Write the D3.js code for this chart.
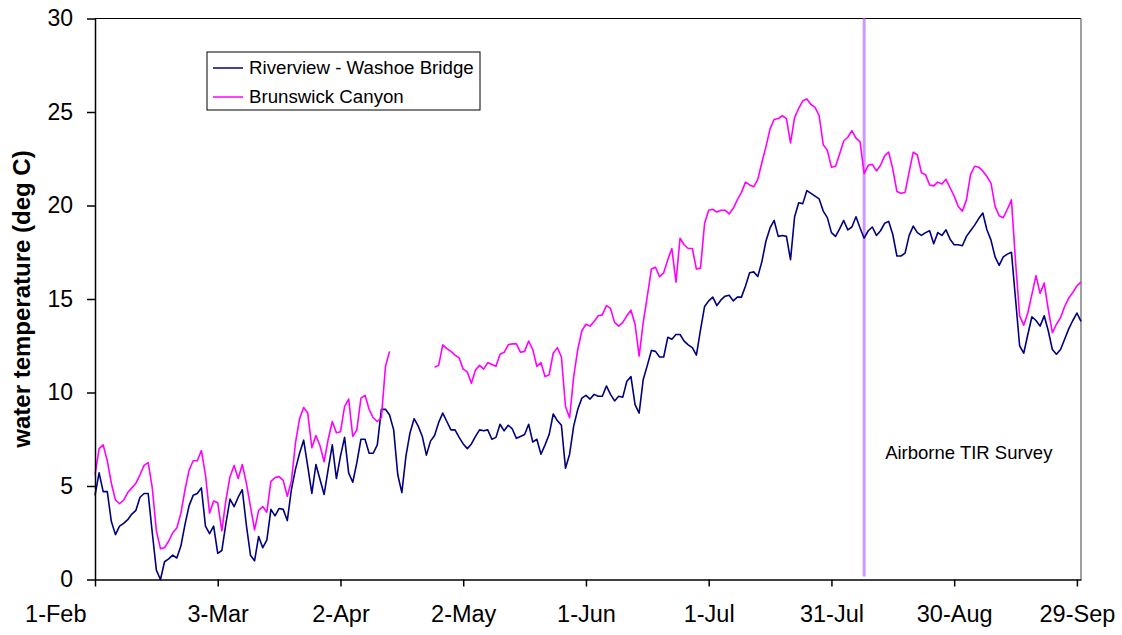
<!DOCTYPE html>
<html>
<head>
<meta charset="utf-8">
<script src="https://cdn.jsdelivr.net/npm/d3@7"></script>
<style>
  html, body { margin: 0; padding: 0; background: #fff; }
  svg { display: block; font-family: "Liberation Sans", Arial, sans-serif; }
</style>
</head>
<body>
<script>
// daily water temperature, 1-Feb .. 30-Sep
const startDay = '1-Feb-2001';
const riverview = [
  4.5, 5.7, 4.7, 4.7, 3.1, 2.4, 2.85, 3.0, 3.2, 3.5,
  3.7, 4.4, 4.6, 4.6, 2.5, 0.5, 0.0, 0.95, 1.1, 1.3,
  1.15, 1.8, 2.95, 3.95, 4.5, 4.6, 4.9, 2.85, 2.45, 2.85,
  1.4, 1.55, 3.0, 4.3, 3.9, 4.4, 4.8, 2.9, 1.3, 1.0,
  2.3, 1.7, 2.1, 3.75, 3.4, 3.8, 3.75, 3.15, 4.8, 5.9,
  6.75, 7.45, 6.05, 4.6, 6.15, 5.35, 4.55, 5.9, 7.2, 5.4,
  6.6, 7.6, 5.7, 5.2, 6.25, 7.5, 7.5, 6.75, 6.75, 7.2,
  9.1, 9.1, 8.8, 8.0, 5.6, 4.65, 6.6, 7.85, 8.6, 8.2,
  7.65, 6.65, 7.4, 7.7, 8.4, 8.9, 8.45, 8.0, 8.0, 7.6,
  7.25, 7.0, 7.25, 7.65, 8.0, 7.95, 8.0, 7.5, 7.6, 8.3,
  7.95, 8.25, 8.05, 7.55, 7.65, 7.75, 8.3, 7.35, 7.5, 6.7,
  7.2, 7.75, 8.85, 8.5, 8.25, 5.95, 6.7, 8.2, 9.1, 9.7,
  9.85, 9.65, 9.9, 9.8, 9.8, 10.35, 9.9, 9.55, 9.8, 9.75,
  10.6, 10.85, 9.35, 8.9, 10.7, 11.45, 12.25, 12.2, 11.9, 11.9,
  12.95, 12.85, 13.1, 13.1, 12.75, 12.55, 12.4, 12.0, 13.35, 14.6,
  14.9, 15.1, 14.65, 14.95, 15.15, 15.2, 14.9, 15.1, 15.1, 15.7,
  16.4, 16.45, 16.2, 17.0, 18.1, 18.8, 19.2, 18.35, 18.4, 18.35,
  17.1, 19.4, 20.15, 20.1, 20.8, 20.65, 20.5, 20.35, 19.7, 19.35,
  18.55, 18.35, 18.75, 19.2, 18.7, 18.85, 19.4, 18.8, 18.25, 18.65,
  18.85, 18.4, 18.65, 19.05, 19.15, 18.45, 17.3, 17.3, 17.45, 18.4,
  18.9, 18.55, 18.4, 18.55, 18.65, 17.95, 18.55, 18.4, 18.7, 18.2,
  17.9, 17.9, 17.85, 18.35, 18.65, 18.95, 19.3, 19.6, 18.7, 18.15,
  17.25, 16.8, 17.25, 17.4, 17.5, 15.0, 12.5, 12.1, 13.1, 14.05,
  13.85, 13.55, 14.1, 13.3, 12.3, 12.05, 12.3, 12.85, 13.4, 13.85,
  14.25, 13.8
];
const brunswick = [
  5.6, 7.0, 7.2, 6.35, 5.15, 4.25, 4.05, 4.25, 4.65, 4.9,
  5.15, 5.6, 6.1, 6.25, 4.9, 2.6, 1.65, 1.7, 2.05, 2.5,
  2.75, 3.55, 4.8, 5.85, 6.35, 6.35, 6.9, 5.6, 3.55, 4.2,
  4.1, 2.6, 4.25, 5.5, 6.1, 5.4, 6.15, 5.15, 3.9, 2.65,
  3.7, 3.9, 3.6, 5.25, 5.45, 5.5, 5.3, 4.45, 5.25, 7.3,
  8.6, 9.2, 8.9, 7.05, 7.7, 7.15, 6.3, 7.5, 8.45, 7.85,
  7.9, 9.25, 9.65, 7.65, 8.0, 9.7, 9.85, 9.1, 8.65, 8.45,
  8.65, 11.4, 12.2, null, null, null, null, null, null, null,
  null, null, null, 11.35, 11.45, 12.55, 12.35, 12.2, 12.0, 11.85,
  11.25, 11.1, 10.5, 11.2, 11.45, 11.25, 11.6, 11.5, 11.4, 12.05,
  12.15, 12.55, 12.6, 12.6, 12.15, 12.2, 12.75, 12.3, 11.4, 11.6,
  10.85, 10.95, 12.1, 12.4, 11.9, 9.25, 8.65, 10.85, 12.3, 13.3,
  13.65, 13.55, 13.8, 14.1, 14.15, 14.65, 14.5, 13.75, 13.55, 13.75,
  14.1, 14.4, 13.65, 11.95, 13.75, 15.15, 16.6, 16.7, 16.2, 16.4,
  17.1, 17.7, 15.9, 18.25, 17.9, 17.7, 17.7, 16.6, 16.65, 19.05,
  19.75, 19.8, 19.65, 19.75, 19.75, 19.55, 19.85, 20.3, 20.7, 21.25,
  21.1, 21.0, 21.4, 22.3, 23.15, 24.1, 24.6, 24.65, 24.8, 24.65,
  23.35, 24.7, 25.2, 25.6, 25.7, 25.4, 25.25, 24.8, 23.25, 22.95,
  22.05, 22.1, 22.75, 23.45, 23.65, 24.0, 23.6, 23.4, 21.7, 22.15,
  22.2, 21.85, 22.15, 22.65, 22.85, 21.95, 20.75, 20.65, 20.7, 21.8,
  22.85, 22.7, 21.75, 21.65, 21.1, 21.05, 21.25, 21.15, 21.4, 20.95,
  20.5, 19.95, 19.7, 20.3, 21.65, 22.1, 22.05, 21.85, 21.55, 21.2,
  19.95, 19.45, 19.35, 19.8, 20.3, 17.0, 14.1, 13.6, 14.25, 15.25,
  16.25, 15.3, 15.85, 14.45, 13.2, 13.65, 14.0, 14.6, 15.05, 15.35,
  15.7, 15.9
];
const seriesNames = ['Riverview - Washoe Bridge', 'Brunswick Canyon'];
const xTickLabels = ['1-Feb', '3-Mar', '2-Apr', '2-May', '1-Jun', '1-Jul', '31-Jul', '30-Aug', '29-Sep'];
const yTicks = [0, 5, 10, 15, 20, 25, 30];
const surveyDay = '8-Aug-2001';
const surveyLabel = 'Airborne TIR Survey';

const W = 1122, H = 635;
const margin = {top: 18, right: 41, bottom: 55, left: 95};
const parse = d3.utcParse('%d-%b-%Y');
const t0 = parse(startDay);
const days = riverview.map((v, i) => d3.utcDay.offset(t0, i));

const svg = d3.select(document.body).append('svg')
  .attr('width', W).attr('height', H);
svg.append('rect').attr('width', W).attr('height', H).attr('fill', '#fff');

const x = d3.scaleUtc()
  .domain([days[0], days[days.length - 1]])
  .range([margin.left, W - margin.right]);
const y = d3.scaleLinear()
  .domain([0, 30])
  .range([H - margin.bottom - 0.5, margin.top + 0.5]);

// plot frame: top in black, right in grey
svg.append('line')
  .attr('x1', margin.left).attr('x2', W - margin.right)
  .attr('y1', y(30)).attr('y2', y(30))
  .attr('stroke', '#000').attr('stroke-width', 1.2);
svg.append('line')
  .attr('x1', W - margin.right).attr('x2', W - margin.right)
  .attr('y1', y(30)).attr('y2', y(0))
  .attr('stroke', '#808080').attr('stroke-width', 1.5);

// survey marker
const xs = x(parse(surveyDay));
svg.append('line')
  .attr('x1', xs).attr('x2', xs).attr('y1', y(30)).attr('y2', y(0) - 3)
  .attr('stroke', '#cc99ff').attr('stroke-width', 3);
svg.append('text')
  .attr('x', xs + 21).attr('y', 459)
  .attr('font-size', 18.5).attr('fill', '#000')
  .text(surveyLabel);

// lines
const line = d3.line()
  .defined(d => d != null)
  .x((d, i) => x(days[i]))
  .y(d => y(d));
svg.append('path').datum(riverview)
  .attr('fill', 'none').attr('stroke', '#000080').attr('stroke-width', 1.6)
  .attr('stroke-linejoin', 'round').attr('d', line);
svg.append('path').datum(brunswick)
  .attr('fill', 'none').attr('stroke', '#ff00ff').attr('stroke-width', 1.6)
  .attr('stroke-linejoin', 'round').attr('d', line);

// axes
const xAxis = d3.axisBottom(x)
  .tickValues(xTickLabels.map(s => parse(s + '-2001')))
  .tickFormat((d, i) => xTickLabels[i])
  .tickSizeOuter(0).tickSizeInner(7).tickPadding(19);
const gx = svg.append('g')
  .attr('transform', `translate(0,${y(0)})`)
  .call(xAxis);
gx.selectAll('text').attr('font-size', 23.5).attr('fill', '#000').attr('font-family', null);
gx.selectAll('line, path').attr('stroke', '#000').attr('stroke-width', 1.5);
// first label sits left of the origin, as in the source
gx.select('.tick text').attr('text-anchor', 'end').attr('dx', -9);

const yAxis = d3.axisLeft(y)
  .tickValues(yTicks)
  .tickSizeOuter(0).tickSizeInner(8).tickPadding(14);
const gy = svg.append('g')
  .attr('transform', `translate(${margin.left},0)`)
  .call(yAxis);
gy.selectAll('text').attr('font-size', 23).attr('fill', '#000').attr('font-family', null);
gy.selectAll('line, path').attr('stroke', '#000').attr('stroke-width', 1.5);

svg.append('text')
  .attr('transform', `translate(30,${(y(0) + y(30)) / 2}) rotate(-90)`)
  .attr('text-anchor', 'middle')
  .attr('font-size', 24).attr('font-weight', 'bold')
  .text('water temperature (deg C)');

// legend
const lg = svg.append('g').attr('transform', 'translate(207,52)');
lg.append('rect').attr('width', 273).attr('height', 58)
  .attr('fill', '#fff').attr('stroke', '#000').attr('stroke-width', 1);
const colors = ['#000080', '#ff00ff'];
seriesNames.forEach((name, i) => {
  const row = lg.append('g').attr('transform', `translate(0,${16 + i * 29})`);
  row.append('line').attr('x1', 6).attr('x2', 36)
    .attr('stroke', colors[i]).attr('stroke-width', 1.5);
  row.append('text').attr('x', 42).attr('y', 6)
    .attr('font-size', 18.7).text(name);
});
</script>
</body>
</html>
